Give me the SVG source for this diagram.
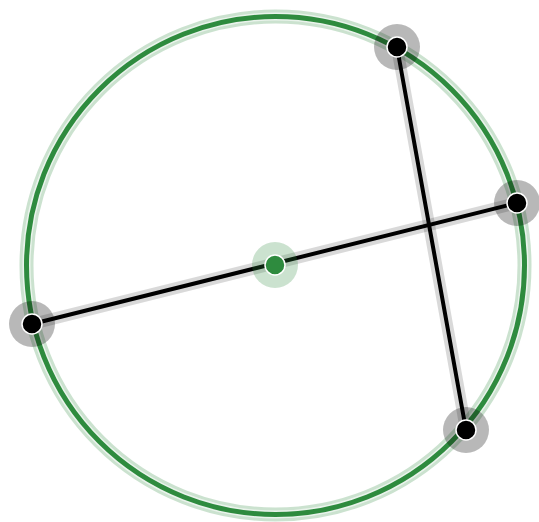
<svg xmlns="http://www.w3.org/2000/svg" width="539" height="522" viewBox="0 0 539 522">
<style>
.halo{fill:none;stroke:#2e8b3e;stroke-opacity:0.25;stroke-width:14}
.gap{fill:none;stroke:#ffffff;stroke-opacity:0.6;stroke-width:8}
.ring{fill:none;stroke:#2e8b3e;stroke-width:5}
.lhalo{stroke:#000;stroke-opacity:0.15;stroke-width:12;stroke-linecap:round}
.line{stroke:#000;stroke-width:4;stroke-linecap:round}
.phalo{fill:#000;fill-opacity:0.28}
.pt{fill:#000;stroke:#fff;stroke-width:1.5}
</style>
<rect width="539" height="522" fill="#fff"/>
<g id="circle">
<circle class="halo" cx="275.5" cy="265.5" r="249"/>
<circle class="gap" cx="275.5" cy="265.5" r="249"/>
<circle class="ring" cx="275.5" cy="265.5" r="249"/>
</g>
<g id="connectors">
<line class="lhalo" x1="397" y1="47" x2="466" y2="430"/>
<line class="lhalo" x1="32" y1="324" x2="517" y2="203"/>
<line class="line" x1="397" y1="47" x2="466" y2="430"/>
<line class="line" x1="32" y1="324" x2="517" y2="203"/>
</g>
<g id="center">
<circle cx="275" cy="265" r="23" fill="#2e8b3e" fill-opacity="0.25"/>
<circle cx="275" cy="265" r="10" fill="#2e8b3e" stroke="#fff" stroke-width="1.5"/>
</g>
<g id="p-top"><circle class="phalo" cx="397" cy="47" r="23"/><circle class="pt" cx="397" cy="47" r="10"/></g>
<g id="p-right"><circle class="phalo" cx="517" cy="203" r="23"/><circle class="pt" cx="517" cy="203" r="10"/></g>
<g id="p-left"><circle class="phalo" cx="32" cy="324" r="23"/><circle class="pt" cx="32" cy="324" r="10"/></g>
<g id="p-bottom"><circle class="phalo" cx="466" cy="430" r="23"/><circle class="pt" cx="466" cy="430" r="10"/></g>
</svg>
